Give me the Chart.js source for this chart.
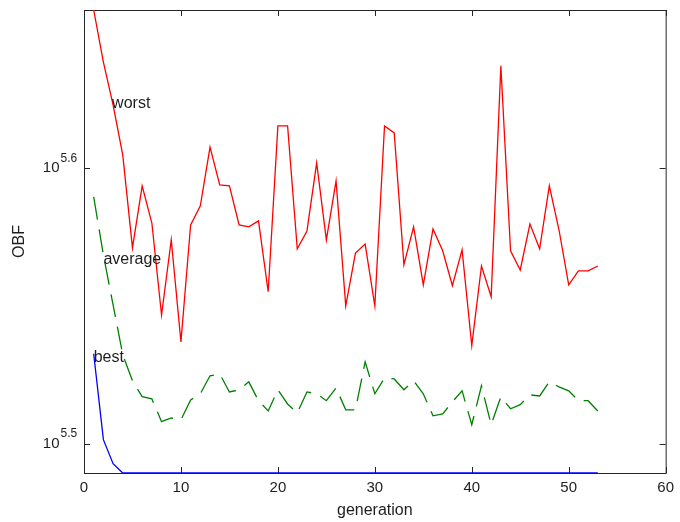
<!DOCTYPE html>
<html>
<head>
<meta charset="utf-8">
<script src="https://cdn.jsdelivr.net/npm/chart.js@4.4.0/dist/chart.umd.min.js"></script>
<style>
  html, body { margin: 0; padding: 0; background: #fff; }
  #chart { display: block; }
</style>
</head>
<body>
<canvas id="chart" width="680" height="522"></canvas>
<script>
// generation numbers (x)
const generations = [1, 2, 3, 4, 5, 6, 7, 8, 9, 10, 11, 12, 13, 14, 15, 16, 17, 18, 19, 20,
    21, 22, 23, 24, 25, 26, 27, 28, 29, 30, 31, 32, 33, 34, 35, 36, 37, 38, 39, 40,
    41, 42, 43, 44, 45, 46, 47, 48, 49, 50, 51, 52, 53];

// OBF values
const worst = [454300, 435000, 419700, 402500, 372500, 392300, 380300, 352200, 375000, 344400,
    379700, 385800, 405200, 392600, 392300, 379700, 379100, 381000, 359100, 412400,
    412400, 372200, 377800, 399900, 375000, 393900, 354900, 370900, 373700, 354900,
    412400, 410000, 367300, 379100, 361200, 378400, 371600, 360900, 371900, 343300,
    366900, 357600, 433600, 371600, 365700, 380000, 372200, 392300, 378100, 361200,
    365400, 365400, 366900];

const average = [388700, 370300, 355200, 340700, 333400, 329000, 328400, 322200, 323200, 322700,
    328100, 329800, 334800, 335300, 330300, 330900, 333100, 327900, 325100, 330900,
    327000, 324600, 330300, 329800, 327900, 331400, 325400, 325400, 338700, 329800,
    334200, 333900, 330900, 333400, 329800, 323800, 324300, 327600, 330600, 321400,
    332000, 321400, 329000, 325700, 326800, 329500, 329200, 333100, 331700, 330600,
    327900, 327900, 325100];

const best = [341000, 317400, 311100, 308700, 308700, 308700, 308700, 308700, 308700, 308700,
    308700, 308700, 308700, 308700, 308700, 308700, 308700, 308700, 308700, 308700,
    308700, 308700, 308700, 308700, 308700, 308700, 308700, 308700, 308700, 308700,
    308700, 308700, 308700, 308700, 308700, 308700, 308700, 308700, 308700, 308700,
    308700, 308700, 308700, 308700, 308700, 308700, 308700, 308700, 308700, 308700,
    308700, 308700, 308700];

// axes
const xTicks = [0, 10, 20, 30, 40, 50, 60];
const yExponents = [5.5, 5.6];   // ticks at 10^5.5 and 10^5.6
const yMin = 308700;
const yMax = 454300;

// in-plot text labels (data coordinates)
const labelNames = ["worst", "average", "best"];
const labelX = [2.9, 2, 1];
const labelY = [420000, 368800, 340000];

const FONT = '"Liberation Sans", Arial, Helvetica, sans-serif';
const INK = "#1e1e1e";

const toPoints = vals => vals.map((v, i) => ({ x: generations[i], y: v }));

// MATLAB-ish box with inward ticks, 10^n labels and text labels
const matlabAxes = {
    id: "matlabAxes",
    beforeDatasetsDraw(chart) {
        const { ctx, chartArea: a, scales: { x, y } } = chart;
        ctx.save();
        ctx.strokeStyle = "#262626";
        ctx.lineWidth = 1;
        ctx.strokeRect(a.left + 0.5, a.top + 0.5, a.right - a.left, a.bottom - a.top);
        ctx.beginPath();
        xTicks.forEach(v => {
            const px = Math.round(x.getPixelForValue(v)) + 0.5;
            ctx.moveTo(px, a.bottom);
            ctx.lineTo(px, a.bottom - 6);
            ctx.moveTo(px, a.top);
            ctx.lineTo(px, a.top + 6);
        });
        yExponents.forEach(e => {
            const py = Math.round(y.getPixelForValue(Math.pow(10, e))) + 0.5;
            ctx.moveTo(a.left, py);
            ctx.lineTo(a.left + 6, py);
            ctx.moveTo(a.right, py);
            ctx.lineTo(a.right - 6, py);
        });
        ctx.stroke();

        // y tick labels as 10^e
        ctx.fillStyle = INK;
        ctx.textBaseline = "middle";
        yExponents.forEach(e => {
            const py = y.getPixelForValue(Math.pow(10, e));
            ctx.font = "15px " + FONT;
            ctx.textAlign = "right";
            ctx.fillText("10", a.left - 24.5, py);
            ctx.font = "12px " + FONT;
            ctx.textAlign = "left";
            ctx.fillText(e.toFixed(1), a.left - 23.5, py - 10);
        });
        ctx.restore();
    },
    afterDatasetsDraw(chart) {
        const { ctx, scales: { x, y } } = chart;
        ctx.save();
        ctx.fillStyle = INK;
        ctx.font = "16px " + FONT;
        ctx.textAlign = "left";
        ctx.textBaseline = "middle";
        labelNames.forEach((name, i) => {
            ctx.fillText(name, x.getPixelForValue(labelX[i]), y.getPixelForValue(labelY[i]));
        });
        ctx.restore();
    }
};

const ctx = document.getElementById("chart").getContext("2d");

new Chart(ctx, {
    type: "line",
    data: {
        datasets: [
            {
                label: "worst",
                data: toPoints(worst),
                borderColor: "#ff0000",
                borderWidth: 1.3,
                pointRadius: 0,
                tension: 0
            },
            {
                label: "average",
                data: toPoints(average),
                borderColor: "#008000",
                borderWidth: 1.3,
                borderDash: [23, 10],
                pointRadius: 0,
                tension: 0
            },
            {
                label: "best",
                data: toPoints(best),
                borderColor: "#0000ff",
                borderWidth: 1.3,
                pointRadius: 0,
                tension: 0,
                clip: false
            }
        ]
    },
    options: {
        responsive: false,
        animation: false,
        devicePixelRatio: 1,
        layout: {
            padding: { top: 10, right: 11, left: 0, bottom: 0 }
        },
        plugins: {
            legend: { display: false },
            tooltip: { enabled: false }
        },
        scales: {
            x: {
                type: "linear",
                min: 0,
                max: 60,
                grid: { display: false, drawTicks: false },
                border: { display: false },
                afterBuildTicks: scale => {
                    scale.ticks = xTicks.map(v => ({ value: v }));
                },
                afterFit: scale => { scale.height = 49; },
                ticks: {
                    padding: 6,
                    color: INK,
                    font: { family: FONT, size: 15 },
                    maxRotation: 0
                },
                title: {
                    display: true,
                    text: "generation",
                    color: INK,
                    font: { family: FONT, size: 16 },
                    padding: { top: 0, bottom: 2 }
                }
            },
            y: {
                type: "logarithmic",
                min: yMin,
                max: yMax,
                grid: { display: false, drawTicks: false },
                border: { display: false },
                afterBuildTicks: scale => {
                    scale.ticks = yExponents.map(e => ({ value: Math.pow(10, e) }));
                },
                afterFit: scale => { scale.width = 84; },
                ticks: { display: false },
                title: {
                    display: true,
                    text: "OBF",
                    color: INK,
                    font: { family: FONT, size: 16 },
                    padding: { top: 10, bottom: 0 }
                }
            }
        }
    },
    plugins: [matlabAxes]
});
</script>
</body>
</html>
